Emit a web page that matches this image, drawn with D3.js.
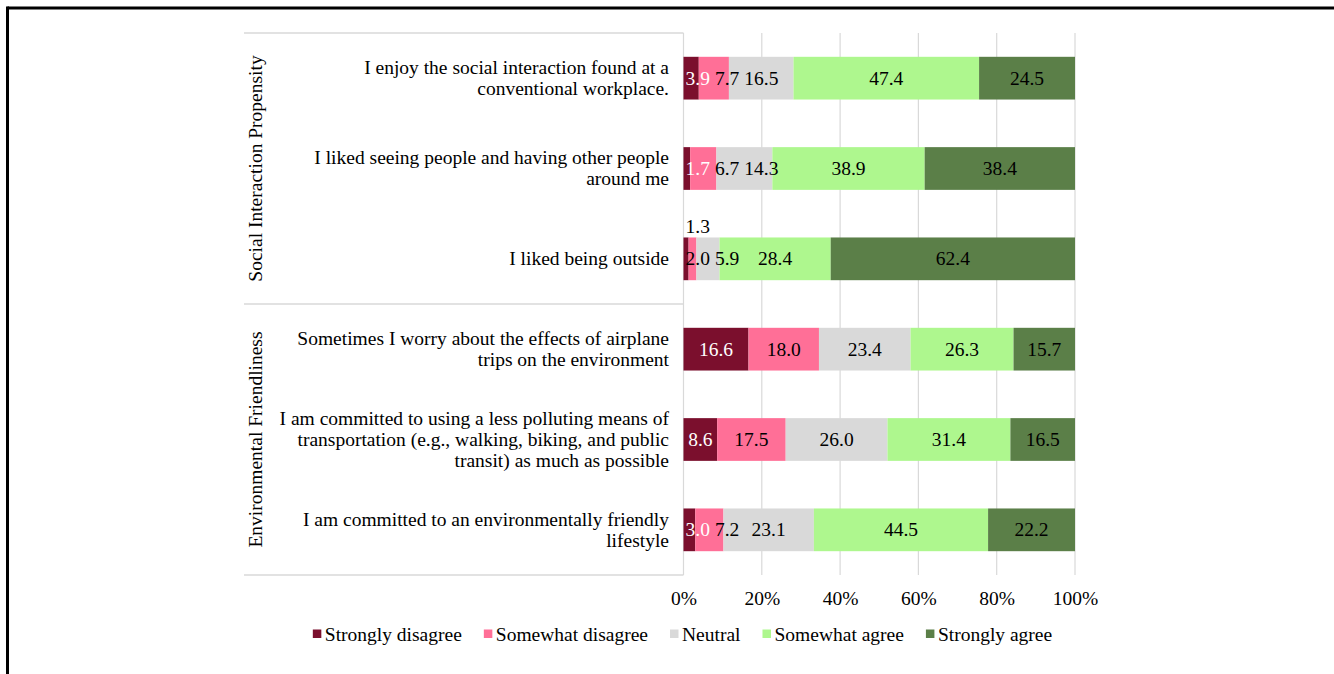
<!DOCTYPE html>
<html>
<head>
<meta charset="utf-8">
<script src="https://cdn.jsdelivr.net/npm/d3@7"></script>
<style>
  html, body { margin: 0; padding: 0; background: #fff; }
  svg { display: block; }
</style>
</head>
<body>
<svg id="chart" width="1334" height="674"></svg>
<script>
// ---- data ----
const categories = [
  "I enjoy the social interaction found at a\nconventional workplace.",
  "I liked seeing people and having other people\naround me",
  "I liked being outside",
  "Sometimes I worry about the effects of airplane\ntrips on the environment",
  "I am committed to using a less polluting means of\ntransportation (e.g., walking, biking, and public\ntransit) as much as possible",
  "I am committed to an environmentally friendly\nlifestyle"
];
const groups = ["Social Interaction Propensity", "Environmental Friendliness"];
const groupOf = [0, 0, 0, 1, 1, 1];
const seriesNames = ["Strongly disagree", "Somewhat disagree", "Neutral", "Somewhat agree", "Strongly agree"];
const stronglyDisagree = [3.9, 1.7, 1.3, 16.6, 8.6, 3.0];
const somewhatDisagree = [7.7, 6.7, 2.0, 18.0, 17.5, 7.2];
const neutral          = [16.5, 14.3, 5.9, 23.4, 26.0, 23.1];
const somewhatAgree    = [47.4, 38.9, 28.4, 26.3, 31.4, 44.5];
const stronglyAgree    = [24.5, 38.4, 62.4, 15.7, 16.5, 22.2];
const tickValues = [0, 20, 40, 60, 80, 100];
const colors = ["#7B0F2D", "#FF6F97", "#D9D9D9", "#AEF78E", "#5B7F48"];
const labelColors = ["#ffffff", "#000000", "#000000", "#000000", "#000000"];

const seriesValues = [stronglyDisagree, somewhatDisagree, neutral, somewhatAgree, stronglyAgree];

// ---- layout ----
const FONT = "Liberation Serif";
const svg = d3.select("#chart");
const FS = 19.5;
const plotTop = 33, plotBottom = 575;
const leftEdge = 244;

function txt(sel) {
  return sel.append("text").style("font-family", FONT).attr("font-size", FS).attr("fill", "#000");
}

// frame (top + left borders)
svg.append("line").attr("x1", 7.5).attr("x2", 1334).attr("y1", 8).attr("y2", 8)
  .attr("stroke", "#000").attr("stroke-width", 3);
svg.append("line").attr("x1", 7.5).attr("x2", 7.5).attr("y1", 6.5).attr("y2", 674)
  .attr("stroke", "#000").attr("stroke-width", 3);

const x = d3.scaleLinear().domain([0, 100]).range([683.5, 1075]);
const y = d3.scaleBand().domain(d3.range(categories.length))
  .range([plotTop, plotBottom]).paddingInner(0.527).paddingOuter(0.2635);

// gridlines
svg.append("g").selectAll("line").data(tickValues).join("line")
  .attr("x1", d => x(d)).attr("x2", d => x(d))
  .attr("y1", plotTop).attr("y2", plotBottom)
  .attr("stroke", "#D9D9D9").attr("stroke-width", 1.2);

// left category area separators
const step = y.step();
const groupBounds = [plotTop, plotTop + step * 3, plotBottom];
svg.append("g").selectAll("line").data(groupBounds).join("line")
  .attr("x1", leftEdge).attr("x2", x(0))
  .attr("y1", d => d).attr("y2", d => d)
  .attr("stroke", "#D9D9D9").attr("stroke-width", 1.5);

// group labels
groups.forEach((g, gi) => {
  const idx = d3.range(categories.length).filter(i => groupOf[i] === gi);
  const top = y(idx[0]) - y.step() * y.paddingInner() / 2;
  const bot = y(idx[idx.length - 1]) + y.bandwidth() + y.step() * y.paddingInner() / 2;
  txt(svg)
    .attr("transform", `translate(262,${(top + bot) / 2}) rotate(-90)`)
    .attr("text-anchor", "middle")
    .text(g);
});

// category labels
categories.forEach((c, i) => {
  const lines = c.split("\n");
  const cy = y(i) + y.bandwidth() / 2;
  const t = txt(svg).attr("text-anchor", "end");
  lines.forEach((ln, li) => {
    t.append("tspan").attr("x", 669)
      .attr("y", cy + 6.3 + (li - (lines.length - 1) / 2) * 21)
      .text(ln);
  });
});

// stacked bars
const rows = categories.map((c, i) => {
  let acc = 0;
  return seriesValues.map((s, si) => {
    const seg = { row: i, series: si, v: s[i], x0: acc, x1: acc + s[i] };
    acc += s[i];
    return seg;
  });
});

const barG = svg.append("g");
rows.forEach(segs => {
  barG.selectAll(null).data(segs).join("rect")
    .attr("x", d => x(d.x0))
    .attr("width", d => Math.max(0, x(d.x1) - x(d.x0)))
    .attr("y", d => y(d.row))
    .attr("height", y.bandwidth())
    .attr("fill", d => colors[d.series]);
});

// value labels (kept within plot and de-overlapped left to right)
const fmt = d3.format(".1f");
const labelG = svg.append("g");
rows.forEach(segs => {
  let prevRight = -Infinity;
  segs.forEach(d => {
    const above = d.v < 1.5;
    const cx = (x(d.x0) + x(d.x1)) / 2;
    const cy = y(d.row) + y.bandwidth() / 2;
    const t = txt(labelG)
      .attr("text-anchor", "start")
      .attr("fill", above ? "#000" : labelColors[d.series])
      .text(fmt(d.v));
    const w = t.node().getComputedTextLength();
    let left = Math.max(cx - w / 2, x(0) + 2);
    if (above) {
      t.attr("x", left).attr("y", y(d.row) - 4);
    } else {
      left = Math.max(left, prevRight + 5);
      t.attr("x", left).attr("y", cy + 6.5);
      prevRight = left + w;
    }
  });
});

// x axis
const axis = d3.axisBottom(x).tickValues(tickValues).tickFormat(d => d + "%").tickSize(0).tickPadding(16.5);
const axG = svg.append("g").attr("transform", `translate(0,${plotBottom})`).call(axis);
axG.select(".domain").remove();
axG.selectAll("text").attr("font-size", FS).attr("fill", "#000").style("font-family", FONT);

// legend
const legendG = svg.append("g");
const items = seriesNames.map((n, i) => {
  const t = txt(legendG).text(n);
  return { t, w: t.node().getComputedTextLength(), i };
});
const markerW = 8.5, markerGap = 3.5, itemGap = 22;
const total = d3.sum(items, d => markerW + markerGap + d.w) + itemGap * (items.length - 1);
let lx = 682.5 - total / 2;
items.forEach(d => {
  legendG.append("rect").attr("x", lx).attr("y", 629.5).attr("width", markerW).attr("height", markerW)
    .attr("fill", colors[d.i]);
  d.t.attr("x", lx + markerW + markerGap).attr("y", 641);
  lx += markerW + markerGap + d.w + itemGap;
});
</script>
</body>
</html>
